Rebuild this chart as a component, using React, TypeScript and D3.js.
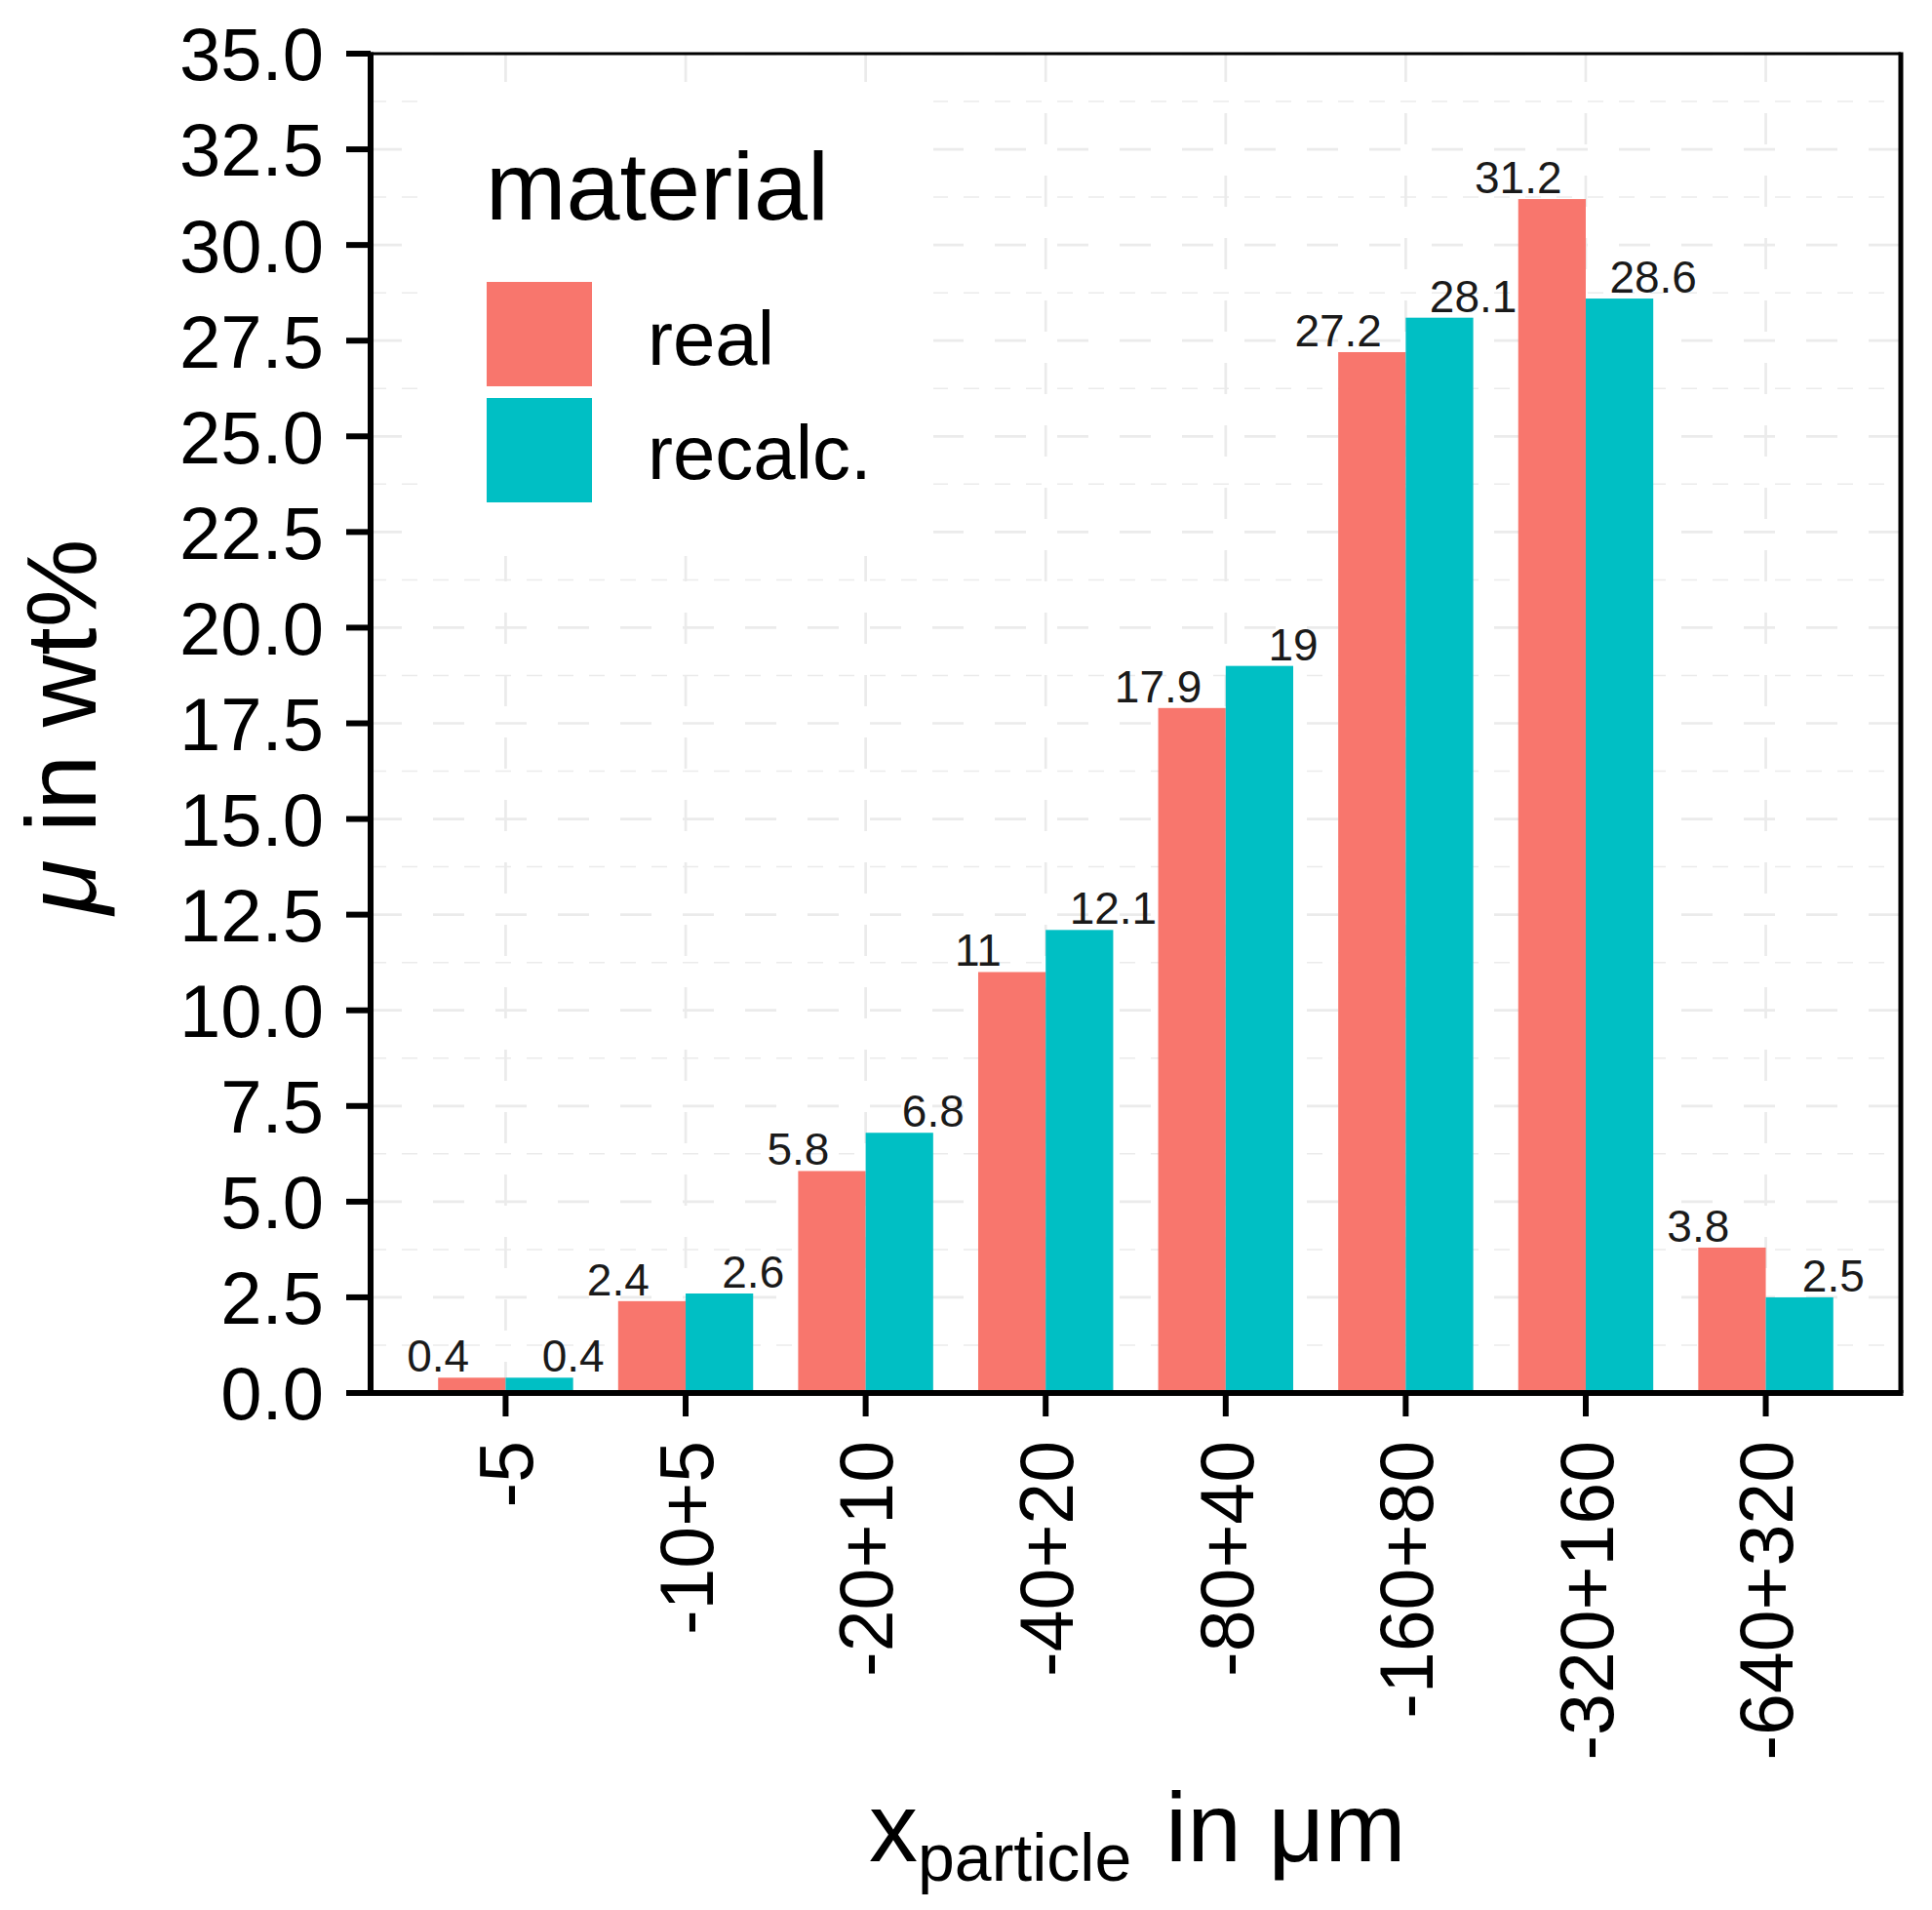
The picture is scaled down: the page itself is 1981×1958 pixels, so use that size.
import React from "react";
import * as d3 from "d3";

const categories = ["-5", "-10+5", "-20+10", "-40+20", "-80+40", "-160+80", "-320+160", "-640+320"];
const realValues = [0.4, 2.4, 5.8, 11, 17.9, 27.2, 31.2, 3.8];
const recalcValues = [0.4, 2.6, 6.8, 12.1, 19, 28.1, 28.6, 2.5];
const seriesNames = ["real", "recalc."];
const seriesColors = ["#F8766D", "#00BFC4"];
const yTickValues = [0, 2.5, 5, 7.5, 10, 12.5, 15, 17.5, 20, 22.5, 25, 27.5, 30, 32.5, 35];
const yMinorValues = [1.25, 3.75, 6.25, 8.75, 11.25, 13.75, 16.25, 18.75, 21.25, 23.75, 26.25, 28.75, 31.25, 33.75];

const W = 1981;
const H = 1958;
const L = 380, R = 1949, T = 55, B = 1428;
const FONT = "'Liberation Sans', Arial, Helvetica, sans-serif";

export default function App() {
  const x = d3.scalePoint<string>().domain(categories).range([L, R]).padding(0.75);
  const y = d3.scaleLinear().domain([0, 35]).range([B, T]);
  const step = x.step();
  const bw = step * 0.375;
  const series = [realValues, recalcValues];
  const grid = "#ebebeb";

  return (
    <svg width={W} height={H} style={{ position: "absolute", left: 0, top: 0, background: "#fff" }} fontFamily={FONT}>
      <rect x={0} y={0} width={W} height={H} fill="#fff" />
      {/* grid */}
      {yMinorValues.map((v) => (
        <line key={"mn" + v} x1={L} x2={R} y1={y(v)} y2={y(v)} stroke={grid} strokeWidth={1.5} strokeDasharray="16 16" />
      ))}
      {yTickValues.map((v) => (
        <line key={"mj" + v} x1={L} x2={R} y1={y(v)} y2={y(v)} stroke={grid} strokeWidth={2.7} strokeDasharray="32 32" />
      ))}
      {categories.map((c) => (
        <line key={"vg" + c} x1={x(c)} x2={x(c)} y1={B} y2={T} stroke={grid} strokeWidth={2.7} strokeDasharray="32 32" />
      ))}
      {/* bars */}
      {categories.map((c, i) => (
        <g key={"b" + c}>
          {series.map((vals, s) => (
            <rect
              key={s}
              x={(x(c) as number) - bw + s * bw}
              y={y(vals[i])}
              width={bw}
              height={B - y(vals[i])}
              fill={seriesColors[s]}
            />
          ))}
        </g>
      ))}
      {/* value labels */}
      {categories.map((c, i) => (
        <g key={"l" + c}>
          {series.map((vals, s) => (
            <text
              key={s}
              x={(x(c) as number) + (s === 0 ? -bw : bw)}
              y={y(vals[i]) - 6}
              textAnchor="middle"
              fontSize={46}
              fill="#1a1a1a"
            >
              {String(vals[i])}
            </text>
          ))}
        </g>
      ))}
      {/* legend */}
      <rect x={428} y={84} width={529} height={486} fill="#fff" />
      <text x={498} y={225} fontSize={99} fill="#000">material</text>
      {seriesNames.map((n, s) => (
        <g key={n}>
          <rect x={499} y={289 + s * 119} width={108} height={107} fill={seriesColors[s]} />
          <text x={664} y={374 + s * 117} fontSize={78} fill="#000">{n}</text>
        </g>
      ))}
      {/* panel border */}
      <line x1={L} x2={R} y1={T} y2={T} stroke="#000" strokeWidth={3} />
      <line x1={R} x2={R} y1={T - 1.5} y2={B} stroke="#000" strokeWidth={5} />
      {/* axes */}
      <line x1={L} x2={L} y1={T - 1.5} y2={B + 3} stroke="#000" strokeWidth={6} />
      <line x1={L - 3} x2={R + 2.5} y1={B} y2={B} stroke="#000" strokeWidth={6} />
      {yTickValues.map((v) => (
        <g key={"yt" + v}>
          <line x1={L - 25} x2={L} y1={y(v)} y2={y(v)} stroke="#000" strokeWidth={6} />
          <text x={332} y={y(v)} dy="0.36em" textAnchor="end" fontSize={76} fill="#000">
            {v.toFixed(1)}
          </text>
        </g>
      ))}
      {categories.map((c) => (
        <g key={"xt" + c}>
          <line x1={x(c)} x2={x(c)} y1={B} y2={B + 24} stroke="#000" strokeWidth={6} />
          <text
            transform={`translate(${x(c)},${1477}) rotate(-90)`}
            dy="0.36em"
            textAnchor="end"
            fontSize={77}
            fill="#000"
          >
            {c}
          </text>
        </g>
      ))}
      {/* axis titles */}
      <text transform={`translate(98,745) rotate(-90)`} textAnchor="middle" fontSize={102} fill="#000">
        <tspan fontStyle="italic">μ</tspan>
        <tspan> in wt%</tspan>
      </text>
      <text x={891} y={1908} fontSize={100} fill="#000">
        <tspan>x</tspan>
        <tspan fontSize={68} dy={20}>particle</tspan>
        <tspan x={1195} dy={-20}>in μm</tspan>
      </text>
    </svg>
  );
}
